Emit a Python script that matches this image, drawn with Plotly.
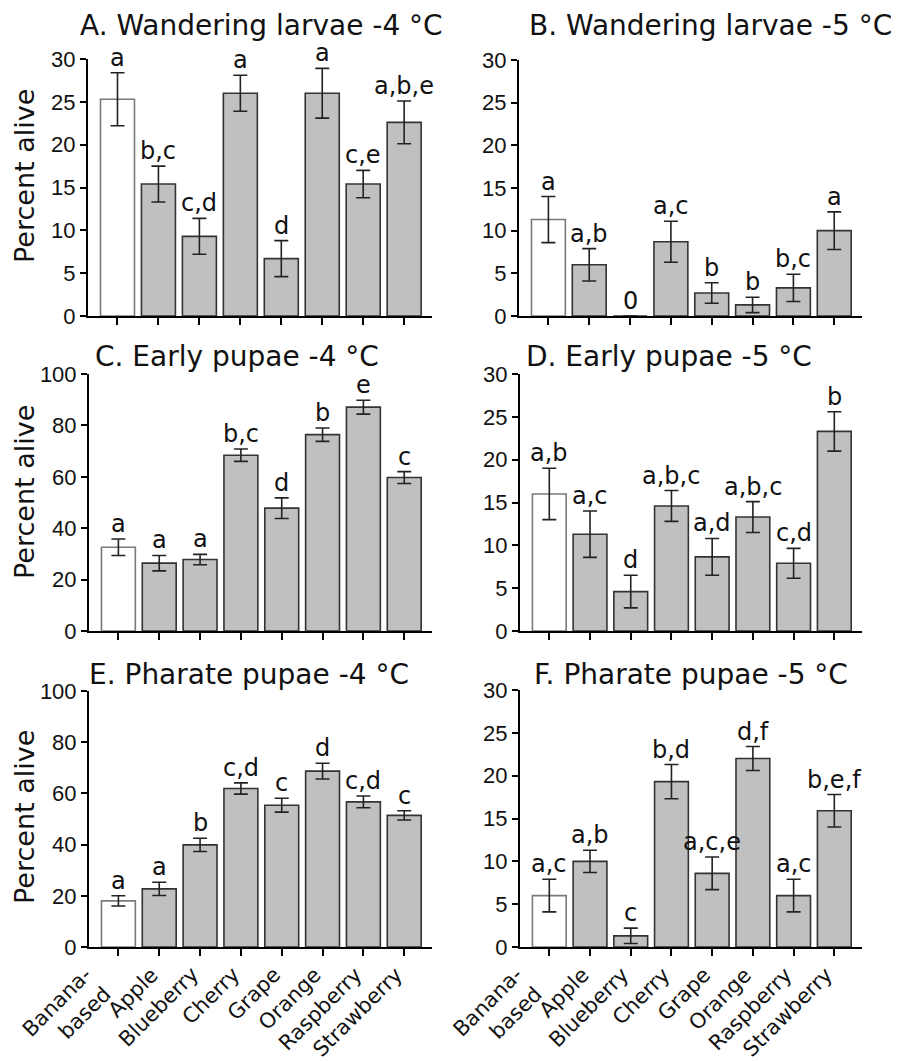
import plotly.graph_objects as go

# Page has an 8 px body margin; figure is sized/positioned so the picture lines up.
OFF = 8
W, H = 899 - OFF, 1061 - OFF

categories = ["Banana-<br>based", "Apple", "Blueberry", "Cherry", "Grape", "Orange", "Raspberry", "Strawberry"]

# Panel A: Wandering larvae -4 °C
a_mean = [25.3, 15.4, 9.3, 26.0, 6.7, 26.0, 15.4, 22.6]
a_err = [3.1, 2.1, 2.1, 2.1, 2.1, 2.9, 1.6, 2.5]
a_let = ["a", "b,c", "c,d", "a", "d", "a", "c,e", "a,b,e"]

# Panel B: Wandering larvae -5 °C
b_mean = [11.3, 6.0, 0.0, 8.7, 2.7, 1.3, 3.3, 10.0]
b_err = [2.7, 1.9, 0.0, 2.4, 1.2, 0.9, 1.6, 2.2]
b_let = ["a", "a,b", "0", "a,c", "b", "b", "b,c", "a"]

# Panel C: Early pupae -4 °C
c_mean = [32.6, 26.4, 27.8, 68.4, 47.8, 76.4, 87.1, 59.7]
c_err = [3.2, 3.0, 2.0, 2.4, 4.0, 2.6, 2.7, 2.3]
c_let = ["a", "a", "a", "b,c", "d", "b", "e", "c"]

# Panel D: Early pupae -5 °C
d_mean = [16.0, 11.3, 4.6, 14.6, 8.65, 13.3, 7.9, 23.3]
d_err = [3.0, 2.7, 1.9, 1.8, 2.15, 1.8, 1.75, 2.3]
d_let = ["a,b", "a,c", "d", "a,b,c", "a,d", "a,b,c", "c,d", "b"]

# Panel E: Pharate pupae -4 °C
e_mean = [18.0, 22.7, 39.9, 61.9, 55.4, 68.7, 56.7, 51.4]
e_err = [2.0, 2.6, 2.6, 2.2, 2.7, 3.1, 2.3, 1.8]
e_let = ["a", "a", "b", "c,d", "c", "d", "c,d", "c"]

# Panel F: Pharate pupae -5 °C
f_mean = [6.0, 10.0, 1.3, 19.3, 8.6, 22.0, 6.0, 15.9]
f_err = [1.9, 1.3, 0.9, 2.0, 1.9, 1.4, 1.9, 1.9]
f_let = ["a,c", "a,b", "c", "b,d", "a,c,e", "d,f", "a,c", "b,e,f"]

titles = ["A. Wandering larvae -4 °C", "B. Wandering larvae -5 °C",
          "C. Early pupae -4 °C", "D. Early pupae -5 °C",
          "E. Pharate pupae -4 °C", "F. Pharate pupae -5 °C"]

panels = [
    (a_mean, a_err, a_let, 30, 5),
    (b_mean, b_err, b_let, 30, 5),
    (c_mean, c_err, c_let, 100, 20),
    (d_mean, d_err, d_let, 30, 5),
    (e_mean, e_err, e_let, 100, 20),
    (f_mean, f_err, f_let, 30, 5),
]

# plot-area pixel boxes in page coordinates (left, right, top, bottom)
boxes = [
    (88, 432, 59, 316), (519, 862, 60, 316),
    (89, 432, 374, 631), (520, 862, 374, 631),
    (89, 432, 691, 947), (520, 862, 690, 947),
]
# (center x, top y) for the top row, (center x, middle y) for the others
title_pos = [(262, 8), (710, 8), (237, 356), (669, 356), (249, 674), (691, 674)]
ytitle_pos = [(24, 176), (24, 492), (24, 817)]
label_dx = [0, 6, 6, 6, 6, 6, 6, 6]


def px(x):
    return (x - OFF) / W


def py(y):
    return 1 - (y - OFF) / H


FONT = "DejaVu Sans"
TICKFONT = "Liberation Sans, Arial"

fig = go.Figure()
annotations = []
for i, ((mean, err, let, ymax, dtick), (l, r, t, b)) in enumerate(zip(panels, boxes)):
    n = i + 1
    xa = "x" if n == 1 else f"x{n}"
    ya = "y" if n == 1 else f"y{n}"
    fills = ["#ffffff"] + ["#c0c0c0"] * 7
    lines = ["#7a7a7a"] + ["#333333"] * 7
    fig.add_trace(go.Bar(
        x=list(range(8)), y=mean, xaxis=xa, yaxis=ya, width=0.83,
        marker=dict(color=fills, line=dict(color=lines, width=1.6)),
        error_y=dict(type="data", array=err, visible=True, color="#222222",
                     thickness=1.6, width=7),
        showlegend=False, hoverinfo="skip",
    ))
    for k in range(8):
        annotations.append(dict(
            x=k, y=mean[k] + err[k], xref=xa, yref=ya, text=let[k],
            showarrow=False, yanchor="bottom", yshift=-1,
            font=dict(family=FONT, size=24, color="#111111"),
        ))
    if n >= 5:
        for k in range(8):
            annotations.append(dict(
                x=k, y=0, xref=xa, yref=ya, text=categories[k],
                showarrow=False, textangle=-45, xanchor="right", yanchor="top",
                align="right", xshift=label_dx[k], yshift=-13,
                font=dict(family=FONT, size=21, color="#111111"),
            ))
    axkw = dict(
        domain=[px(l), px(r)], range=[-0.72, 7.68], showline=True,
        linecolor="black", linewidth=2, ticks="outside", ticklen=7,
        tickwidth=2, tickcolor="black", showgrid=False, zeroline=False,
        tickmode="array", tickvals=list(range(8)), showticklabels=False,
        anchor=ya, automargin=False, fixedrange=True,
    )
    aykw = dict(
        domain=[py(b), py(t)], range=[0, ymax], showline=True,
        linecolor="black", linewidth=2, ticks="outside", ticklen=6,
        tickwidth=2, tickcolor="black", showgrid=False, zeroline=False,
        dtick=dtick, tick0=0, tickfont=dict(family=TICKFONT, size=22, color="#111111"),
        anchor=xa, automargin=False, fixedrange=True,
    )
    fig.layout[("xaxis" if n == 1 else f"xaxis{n}")] = axkw
    fig.layout[("yaxis" if n == 1 else f"yaxis{n}")] = aykw
    tx, ty = title_pos[i]
    annotations.append(dict(
        x=px(tx), y=py(ty), xref="paper", yref="paper", text=titles[i],
        showarrow=False, xanchor="center", yanchor="top" if n <= 2 else "middle",
        borderpad=0,
        font=dict(family=FONT, size=28, color="#111111"),
    ))

for (qx, qy) in ytitle_pos:
    annotations.append(dict(
        x=px(qx), y=py(qy), xref="paper", yref="paper", text="Percent alive",
        showarrow=False, textangle=-90, xanchor="center", yanchor="middle",
        font=dict(family=FONT, size=27, color="#111111"),
    ))

fig.update_layout(
    width=W, height=H, margin=dict(l=0, r=0, t=0, b=0),
    paper_bgcolor="white", plot_bgcolor="white",
    annotations=annotations,
)

fig.write_html("out.html")
